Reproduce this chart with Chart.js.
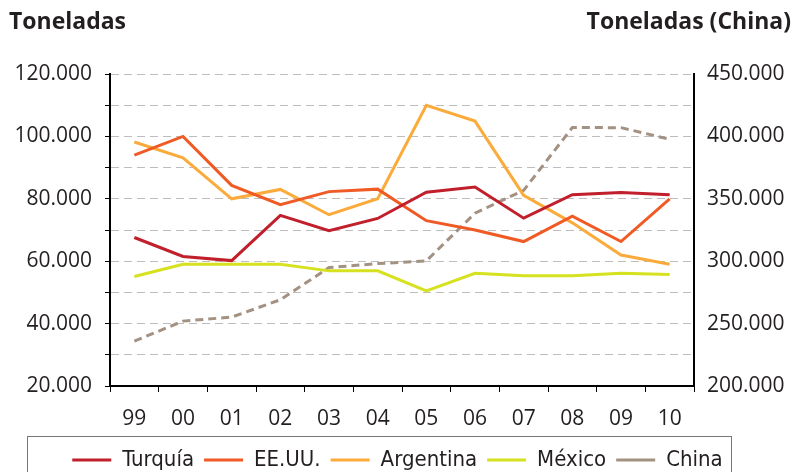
<!DOCTYPE html>
<html>
<head>
<meta charset="utf-8">
<script src="https://cdn.jsdelivr.net/npm/chart.js@4.4.1/dist/chart.umd.min.js"></script>
<style>
  html, body { margin: 0; padding: 0; background: #fff; }
  #wrap { width: 795px; height: 472px; position: relative; }
</style>
</head>
<body>
<div id="wrap"><canvas id="lineChart" width="795" height="472"></canvas></div>
<script>
const years    = ["99", "00", "01", "02", "03", "04", "05", "06", "07", "08", "09", "10"];
const turquia  = [67600, 61500, 60200, 74700, 69800, 73700, 82100, 83800, 73800, 81300, 82000, 81300];
const eeuu     = [94000, 100000, 84300, 78100, 82300, 83100, 73000, 70000, 66300, 74400, 66300, 80000];
const argentina = [98200, 93100, 80000, 83000, 74900, 80000, 110000, 104900, 81100, 72300, 62000, 59000];
const mexico   = [55100, 59000, 59000, 59000, 56900, 56900, 50500, 56100, 55300, 55300, 56100, 55700];
const china    = [235900, 252000, 255200, 269100, 294900, 298100, 300200, 338500, 356800, 407100, 407000, 397700];

const leftTitle  = "Toneladas";
const rightTitle = "Toneladas (China)";

function formatThousands(v){
    return String(v).replace(/\B(?=(\d{3})+(?!\d))/g, ".");
}

// titles above the axes + frame around the legend
const extras = {
    id: 'extras',
    afterDraw(chart){
        const ctx = chart.ctx;
        ctx.save();
        ctx.fillStyle = '#231f20';
        ctx.font = 'bold 23px "Open Sans"';
        ctx.textBaseline = 'middle';
        ctx.textAlign = 'left';
        ctx.fillText(leftTitle, 9, 22);
        ctx.textAlign = 'right';
        ctx.fillText(rightTitle, 791, 22);
        ctx.strokeStyle = '#777';
        ctx.lineWidth = 1;
        ctx.strokeRect(27.5, 436.5, 704, 60);
        ctx.restore();
    }
};

function series(label, data, color, axis, dash){
    return {
        label: label,
        data: data,
        borderColor: color,
        backgroundColor: color,
        borderWidth: 3,
        borderDash: dash || [],
        pointRadius: 0,
        pointHoverRadius: 0,
        pointStyle: 'line',
        tension: 0,
        yAxisID: axis
    };
}

const ctx = document.getElementById('lineChart').getContext('2d');
const chart = new Chart(ctx, {
    type: 'line',
    data: {
        labels: years,
        datasets: [
            series('Turquía', turquia, '#c01f2b', 'y'),
            series('EE.UU.', eeuu, '#f05a24', 'y'),
            series('Argentina', argentina, '#fbab3b', 'y'),
            series('México', mexico, '#d6e11f', 'y'),
            series('China', china, '#a39282', 'y1', [8, 5])
        ]
    },
    options: {
        responsive: false,
        animation: false,
        layout: { padding: { top: 74, left: 0, right: 0, bottom: -9 } },
        plugins: {
            tooltip: { enabled: false },
            legend: {
                position: 'bottom',
                labels: {
                    usePointStyle: true,
                    pointStyleWidth: 39,
                    padding: 10,
                    color: '#231f20',
                    font: { family: '"DejaVu Sans Condensed", "Open Sans"', size: 22 }
                }
            }
        },
        scales: {
            x: {
                offset: true,
                grid: { offset: true, drawOnChartArea: false, color: '#000', tickLength: 6, tickColor: '#000' },
                border: { color: '#000', width: 2 },
                ticks: { color: '#231f20', padding: 14, font: { family: '"Open Sans"', size: 21 } },
                afterFit(scale){ scale.height = 53; }
            },
            y: {
                position: 'left',
                min: 20000,
                max: 120000,
                ticks: {
                    stepSize: 10000,
                    color: '#231f20',
                    padding: 13,
                    font: { family: '"Open Sans"', size: 21 },
                    callback: v => (v % 20000 === 0 ? formatThousands(v) : '')
                },
                grid: { color: '#bdbdbd', tickColor: '#000', tickLength: 5, tickBorderDash: [], lineWidth: 1 },
                border: { color: '#000', width: 2, dash: [8, 5] },
                afterFit(scale){ scale.width = 110; }
            },
            y1: {
                position: 'right',
                min: 200000,
                max: 450000,
                ticks: {
                    stepSize: 25000,
                    color: '#231f20',
                    padding: 13,
                    font: { family: '"Open Sans"', size: 21 },
                    callback: v => (v % 50000 === 0 ? formatThousands(v) : '')
                },
                grid: { drawOnChartArea: false, drawTicks: false },
                border: { color: '#000', width: 2 },
                afterFit(scale){ scale.width = 101; }
            }
        }
    },
    plugins: [extras]
});
</script>
</body>
</html>
